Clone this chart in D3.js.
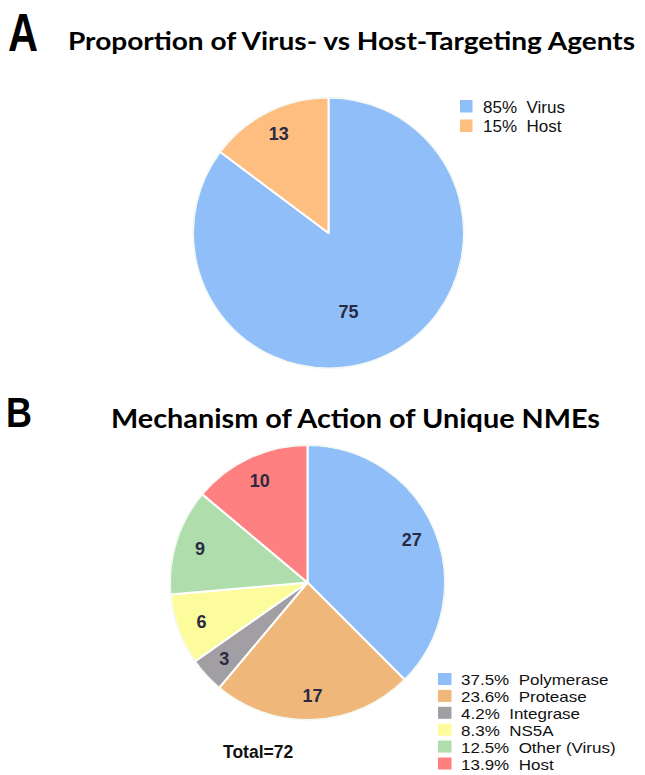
<!DOCTYPE html>
<html><head><meta charset="utf-8">
<script src="https://cdn.jsdelivr.net/npm/d3@7"></script>
<style>html,body{margin:0;padding:0;background:#fff;}svg{display:block;}</style>
</head><body>
<svg id="chart" width="645" height="775"></svg>
<script>
// Chart A data
const catsA = ["Virus", "Host"];
const valuesA = [75, 13];
const pctA = ["85%", "15%"];
const colorsA = ["#90bef8", "#fdbe80"];

// Chart B data
const catsB = ["Polymerase", "Protease", "Integrase", "NS5A", "Other (Virus)", "Host"];
const valuesB = [27, 17, 3, 6, 9, 10];
const pctB = ["37.5%", "23.6%", "4.2%", "8.3%", "12.5%", "13.9%"];
const colorsB = ["#90bef8", "#f0b77a", "#a19fa4", "#fdfc9c", "#b0ddac", "#fe8080"];
const totalB = "Total=72";

const svg = d3.select("#chart");

function drawPie(cx, cy, r, cats, values, colors) {
  const g = svg.append("g").attr("transform", `translate(${cx},${cy})`);
  const pie = d3.pie().sort(null).value(d => d);
  const arcs = pie(values);
  const arc = d3.arc().innerRadius(0).outerRadius(r);
  const total = d3.sum(values);
  g.selectAll("path").data(arcs).enter().append("path")
    .attr("d", arc)
    .attr("fill", (d, i) => colors[i])
    .attr("stroke", "#fff").attr("stroke-width", 2).attr("stroke-linejoin", "round");
  g.append("circle").attr("r", r).attr("fill", "none").attr("stroke", "#eef6ee").attr("stroke-width", 1);
  g.selectAll("text").data(arcs).enter().append("text")
    .attr("transform", d => {
      const big = (d.value / total) > 0.5;
      const f = big ? 0.6 : 0.82;
      const a = big ? d.startAngle + (d.endAngle - d.startAngle) * 0.54 : (d.startAngle + d.endAngle) / 2;
      const x = Math.sin(a) * r * f, y = -Math.cos(a) * r * f;
      return `translate(${x},${y})`;
    })
    .attr("text-anchor", "middle").attr("dy", "0.36em")
    .attr("font-family", "Liberation Sans, Arial, sans-serif").attr("font-weight", "bold")
    .attr("font-size", 18).attr("fill", "#2a2a42")
    .text(d => d.value);
}

function drawLegend(x, y, step, cats, pcts, colors, sw, sh, fs) {
  const g = svg.append("g").attr("transform", `translate(${x},${y})`);
  cats.forEach((c, i) => {
    g.append("rect").attr("x", 0).attr("y", i * step).attr("width", sw).attr("height", sh).attr("fill", colors[i]);
    const t = g.append("text").attr("x", 23).attr("y", i * step + sh)
      .attr("font-family", "Liberation Sans, Arial, sans-serif").attr("font-size", 17).attr("fill", "#111")
      .attr("xml:space", "preserve")
      .text(pcts[i] + "  " + c);
    if (fs !== 17) {
      const w = t.node().getComputedTextLength();
      t.attr("font-size", fs).attr("textLength", w).attr("lengthAdjust", "spacingAndGlyphs");
    }
  });
}

// Panel letters and titles
svg.append("text").attr("x", 8).attr("y", 51).attr("font-family", "Liberation Sans, Arial, sans-serif")
  .attr("font-weight", "bold").attr("font-size", 54).attr("textLength", 30).attr("lengthAdjust", "spacingAndGlyphs").text("A");
svg.append("text").attr("x", 68).attr("y", 50).attr("font-family", "Lato, 'Open Sans', sans-serif")
  .attr("font-weight", "bold").attr("font-size", 24).attr("textLength", 567).attr("lengthAdjust", "spacingAndGlyphs")
  .text("Proportion of Virus- vs Host-Targeting Agents");
svg.append("text").attr("x", 6).attr("y", 427).attr("font-family", "Liberation Sans, Arial, sans-serif")
  .attr("font-weight", "bold").attr("font-size", 42).attr("textLength", 26).attr("lengthAdjust", "spacingAndGlyphs").text("B");
svg.append("text").attr("x", 111).attr("y", 428).attr("font-family", "Lato, 'Open Sans', sans-serif")
  .attr("font-weight", "bold").attr("font-size", 26).attr("textLength", 489).attr("lengthAdjust", "spacingAndGlyphs")
  .text("Mechanism of Action of Unique NMEs");

drawPie(328.5, 233, 135.5, catsA, valuesA, colorsA);
drawLegend(460, 100, 19.5, catsA, pctA, colorsA, 12.5, 12.5, 17);

drawPie(307.5, 582.5, 137.5, catsB, valuesB, colorsB);
drawLegend(438, 673, 16.9, catsB, pctB, colorsB, 13.5, 12, 15);

svg.append("text").attr("x", 223).attr("y", 758).attr("font-family", "Liberation Sans, Arial, sans-serif")
  .attr("font-weight", "bold").attr("font-size", 17.5).attr("fill", "#111").text(totalB);
</script>
</body></html>
